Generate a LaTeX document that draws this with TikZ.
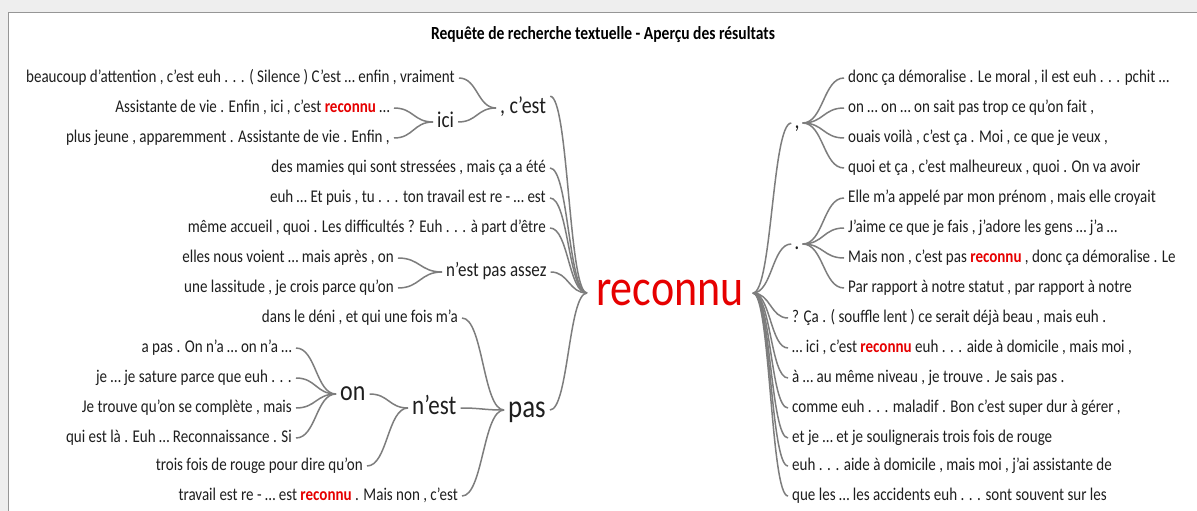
\documentclass[tikz,border=0pt]{standalone}
\usepackage{fontspec}
\setmainfont{Carlito}[FakeStretch=0.84]
\usetikzlibrary{calc}
\definecolor{wtred}{RGB}{230,0,0}
\definecolor{wtline}{RGB}{125,125,125}
\definecolor{wttext}{RGB}{30,30,30}
\definecolor{wtframe}{RGB}{150,150,150}
\definecolor{wtout}{RGB}{238,238,238}
\newcommand\rkw[1]{\textcolor{wtred}{\bfseries #1}}
\begin{document}
\begin{tikzpicture}[x=1pt,y=-1pt,
  leaf/.style={font=\fontsize{17.9}{20}\selectfont, text=wttext, inner xsep=4pt, inner ysep=0pt,
    text depth=6pt, text height=14.34pt},
  lL/.style={leaf, anchor=east},
  lR/.style={leaf, anchor=west},
  hub/.style={anchor=west, text=wttext, inner xsep=4pt, inner ysep=0pt, text depth=6pt},
  conn/.style={draw=wtline, line width=1.5pt},
  brace/.style={to path={let \p1=(\tikztostart), \p2=(\tikztotarget) in
      .. controls ({(\x1+\x2)/2},\y1) and ({(\x1+\x2)/2},\y2) .. (\tikztotarget)}}
]
\useasboundingbox (0,0) rectangle (1197,511);
\fill[wtout] (0,0) rectangle (1197,511);
\fill[white] (8,13) rectangle (1197,511);
\draw[wtframe, line width=1pt] (8,511) -- (8,13) -- (1197,13);

\node[font=\bfseries\fontsize{18.5}{22}\selectfont, text=black] (title) at (603,35) {Requête de recherche textuelle - Aperçu des résultats};

% left leaves
\node[lL] (l1) at (459,78) {beaucoup d’attention , c’est euh . . . ( Silence ) C’est … enfin , vraiment};
\node[lL] (l2) at (394,108) {Assistante de vie . Enfin , ici , c’est \rkw{reconnu} …};
\node[lL] (l3) at (394,138) {plus jeune , apparemment . Assistante de vie . Enfin ,};
\node[lL] (l4) at (550,168) {des mamies qui sont stressées , mais ça a été};
\node[lL] (l5) at (550,198) {euh … Et puis , tu . . . ton travail est re - … est};
\node[lL] (l6) at (550,228) {même accueil , quoi . Les difficultés ? Euh . . . à part d’être};
\node[lL] (l7) at (398,258) {elles nous voient … mais après , on};
\node[lL] (l8) at (398,288) {une lassitude , je crois parce qu’on};
\node[lL] (l9) at (462,318) {dans le déni , et qui une fois m’a};
\node[lL] (l10) at (296,348) {a pas . On n’a … on n’a …};
\node[lL] (l11) at (296,378) {je … je sature parce que euh . . .};
\node[lL] (l12) at (296,408) {Je trouve qu’on se complète , mais};
\node[lL] (l13) at (296,438) {qui est là . Euh … Reconnaissance . Si};
\node[lL] (l14) at (367,466) {trois fois de rouge pour dire qu’on};
\node[lL] (l15) at (462,496) {travail est re - … est \rkw{reconnu} . Mais non , c’est};

% hubs
\node[hub, font=\fontsize{22.6}{26}\selectfont, text height=16.53pt] (ici) at (433,122) {ici};
\node[hub, font=\fontsize{23.8}{28}\selectfont, text height=17.09pt] (cest) at (496,108) {, c’est};
\node[hub, font=\fontsize{20.2}{24}\selectfont, text height=15.41pt] (nepa) at (442,272) {n’est pas assez};
\node[hub, font=\fontsize{28.5}{33}\selectfont, text height=19.28pt] (on) at (336,394) {on};
\node[hub, font=\fontsize{27.4}{32}\selectfont, text height=18.77pt] (nest) at (408,408) {n’est};
\node[hub, font=\fontsize{32}{38}\selectfont, text height=20.91pt] (pas) at (504,410) {pas};
\node[hub, font=\fontsize{52.4}{60}\selectfont, text height=30.42pt, text=wtred, inner xsep=9pt] (rec) at (587,293) {reconnu};
\node[font=\fontsize{23.8}{28}\selectfont, text=wttext, inner xsep=3pt, inner ysep=0pt, text depth=6pt, text height=17.09pt] (comma) at (797,123) {,};
\node[font=\fontsize{23.8}{28}\selectfont, text=wttext, inner xsep=3pt, inner ysep=0pt, text depth=6pt, text height=17.09pt] (period) at (797,244) {.};

% right leaves
\node[lR] (r1) at (844,78) {donc ça démoralise . Le moral , il est euh . . . pchit …};
\node[lR] (r2) at (844,108) {on … on … on sait pas trop ce qu’on fait ,};
\node[lR] (r3) at (844,138) {ouais voilà , c’est ça . Moi , ce que je veux ,};
\node[lR] (r4) at (844,168) {quoi et ça , c’est malheureux , quoi . On va avoir};
\node[lR] (r5) at (844,198) {Elle m’a appelé par mon prénom , mais elle croyait};
\node[lR] (r6) at (844,228) {J’aime ce que je fais , j’adore les gens … j’a …};
\node[lR] (r7) at (844,258) {Mais non , c’est pas \rkw{reconnu} , donc ça démoralise . Le};
\node[lR] (r8) at (844,288) {Par rapport à notre statut , par rapport à notre};
\node[lR] (r9) at (788,318) {? Ça . ( souffle lent ) ce serait déjà beau , mais euh .};
\node[lR] (r10) at (788,348) {… ici , c’est \rkw{reconnu} euh . . . aide à domicile , mais moi ,};
\node[lR] (r11) at (788,378) {à … au même niveau , je trouve . Je sais pas .};
\node[lR] (r12) at (788,408) {comme euh . . . maladif . Bon c’est super dur à gérer ,};
\node[lR] (r13) at (788,438) {et je … et je soulignerais trois fois de rouge};
\node[lR] (r14) at (788,466) {euh . . . aide à domicile , mais moi , j’ai assistante de};
\node[lR] (r15) at (788,496) {que les … les accidents euh . . . sont souvent sur les};

% left connectors
\draw[conn] (l1.east) to[brace] (cest.west);
\draw[conn] (ici.east) to[brace] (cest.west);
\draw[conn] (l2.east) to[brace] (ici.west);
\draw[conn] (l3.east) to[brace] (ici.west);
\draw[conn] (cest.north east) to[brace] (rec.west);
\draw[conn] (l4.east) to[brace] (rec.west);
\draw[conn] (l5.east) to[brace] (rec.west);
\draw[conn] (l6.east) to[brace] (rec.west);
\draw[conn] (l7.east) to[brace] (nepa.west);
\draw[conn] (l8.east) to[brace] (nepa.west);
\draw[conn] (nepa.east) to[brace] (rec.west);
\draw[conn] (l9.east) to[brace] (pas.west);
\draw[conn] (l10.east) to[brace] (on.west);
\draw[conn] (l11.east) to[brace] (on.west);
\draw[conn] (l12.east) to[brace] (on.west);
\draw[conn] (l13.east) to[brace] (on.west);
\draw[conn] (on.east) to[brace] (nest.west);
\draw[conn] (l14.east) to[brace] (nest.west);
\draw[conn] (nest.east) to[brace] (pas.west);
\draw[conn] (l15.east) to[brace] (pas.west);
\draw[conn] (pas.east) to[brace] (rec.west);

% right connectors
\draw[conn] (rec.east) to[brace] (comma.west);
\draw[conn] (rec.east) to[brace] (period.west);
\foreach \r in {r1,r2,r3,r4} \draw[conn] (comma.east) to[brace] (\r.west);
\foreach \r in {r5,r6,r7,r8} \draw[conn] (period.east) to[brace] (\r.west);
\foreach \r in {r9,r10,r11,r12,r13,r14,r15} \draw[conn] (rec.east) to[brace] (\r.west);
\end{tikzpicture}
\end{document}
